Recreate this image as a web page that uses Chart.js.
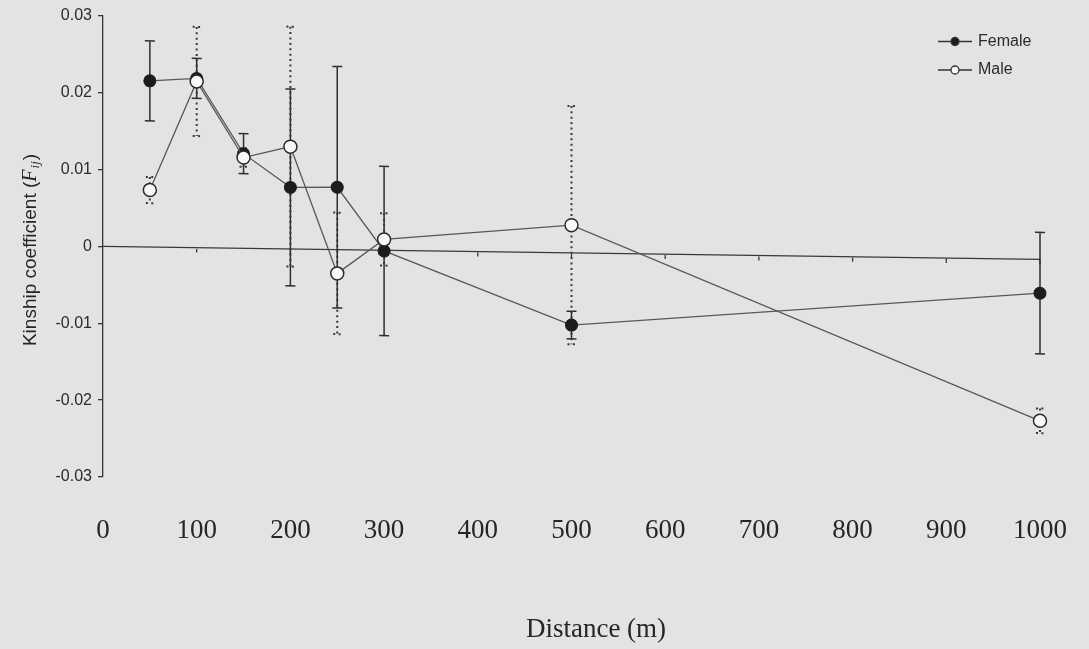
<!DOCTYPE html>
<html>
<head>
<meta charset="utf-8">
<title>Kinship coefficient by distance</title>
<script src="https://cdn.jsdelivr.net/npm/chart.js@4.4.1/dist/chart.umd.min.js"></script>
<style>
  html, body { margin: 0; padding: 0; background: #e3e3e3; }
  #wrap { width: 1089px; height: 649px; }
</style>
</head>
<body>
<div id="wrap"><canvas id="kinshipChart" width="1089" height="649"></canvas></div>
<script>
// distance classes (m) and mean kinship per sex, with their error bars
const distances = [50, 100, 150, 200, 250, 300, 500, 1000];
const femaleF   = [0.0216, 0.0220, 0.0123, 0.0080, 0.0081, -0.0001, -0.0094, -0.0044];
const femaleErr = [0.0052, 0.0026, 0.0026, 0.0128, 0.0157, 0.0110, 0.0018, 0.0079];
const maleF     = [0.0074, 0.0216, 0.0118, 0.0133, -0.0031, 0.0014, 0.0036, -0.0210];
const maleErr   = [0.0017, 0.0071, 0.0012, 0.0156, 0.0079, 0.0034, 0.0155, 0.0016];

const xTicks = [0, 100, 200, 300, 400, 500, 600, 700, 800, 900, 1000];
const yTicks = [0.03, 0.02, 0.01, 0, -0.01, -0.02, -0.03];

// the scanned plot leans a little, the zero line drops towards the right
const SHEAR = 0.0139;

function drawErrorBars(ctx, xs, ys, values, errs, dotted) {
    ctx.save();
    ctx.strokeStyle = dotted ? '#383838' : '#2e2e2e';
    ctx.lineWidth = dotted ? 2 : 1.5;
    ctx.setLineDash(dotted ? [2, 3.4] : []);
    const cap = dotted ? 4 : 5;
    distances.forEach((d, i) => {
        const px = xs.getPixelForValue(d);
        const top = ys.getPixelForValue(values[i] + errs[i]);
        const bot = ys.getPixelForValue(values[i] - errs[i]);
        ctx.beginPath();
        ctx.moveTo(px, top); ctx.lineTo(px, bot);
        ctx.moveTo(px - cap, top); ctx.lineTo(px + cap, top);
        ctx.moveTo(px - cap, bot); ctx.lineTo(px + cap, bot);
        ctx.stroke();
    });
    ctx.restore();
}

const figurePlugin = {
    id: 'figure',
    beforeDatasetsDraw(chart) {
        const ctx = chart.ctx;
        const xs = chart.scales.x, ys = chart.scales.y;
        ctx.save();
        ctx.transform(1, SHEAR, 0, 1, 0, -SHEAR * xs.left);

        // horizontal axis through zero, tick marks hanging below
        const y0 = ys.getPixelForValue(0);
        ctx.save();
        ctx.strokeStyle = '#3a3a3a';
        ctx.lineWidth = 1.3;
        ctx.beginPath();
        ctx.moveTo(xs.left, y0);
        ctx.lineTo(xs.right, y0);
        xTicks.forEach(v => {
            if (v === 0) return;
            const px = xs.getPixelForValue(v);
            ctx.moveTo(px, y0);
            ctx.lineTo(px, y0 + 5);
        });
        ctx.stroke();
        ctx.restore();

        drawErrorBars(ctx, xs, ys, femaleF, femaleErr, false);
        drawErrorBars(ctx, xs, ys, maleF, maleErr, true);
    },
    afterDatasetsDraw(chart) {
        chart.ctx.restore();
    },
    afterDraw(chart) {
        const ctx = chart.ctx;
        ctx.save();

        // legend
        const items = [
            { text: 'Female', y: 41.5, fill: '#1c1c1c' },
            { text: 'Male', y: 70, fill: '#f8f8f8' }
        ];
        items.forEach(it => {
            ctx.strokeStyle = '#333';
            ctx.lineWidth = 1.3;
            ctx.beginPath();
            ctx.moveTo(938, it.y); ctx.lineTo(972, it.y);
            ctx.stroke();
            ctx.beginPath();
            ctx.arc(955, it.y, 4, 0, Math.PI * 2);
            ctx.fillStyle = it.fill;
            ctx.fill();
            ctx.stroke();
            ctx.fillStyle = '#2a2a2a';
            ctx.font = '16px "Liberation Sans"';
            ctx.textBaseline = 'middle';
            ctx.textAlign = 'left';
            ctx.fillText(it.text, 978, it.y);
        });

        // x title
        ctx.font = '27px "Liberation Serif"';
        ctx.textAlign = 'center';
        ctx.textBaseline = 'middle';
        ctx.fillStyle = '#262626';
        ctx.fillText('Distance (m)', 596, 630);

        // y title with italic F and subscript ij
        ctx.translate(31, 250);
        ctx.rotate(-Math.PI / 2);
        ctx.textAlign = 'left';
        ctx.textBaseline = 'middle';
        const fMain = '19px "Liberation Sans"';
        const fF = 'italic 20px "Liberation Serif"';
        const fSub = 'italic 13px "Liberation Serif"';
        const part1 = 'Kinship coefficient (';
        ctx.font = fMain; const w1 = ctx.measureText(part1).width; const wP = ctx.measureText(')').width;
        ctx.font = fF; const wF = ctx.measureText('F').width + 1;
        ctx.font = fSub; const wS = ctx.measureText('ij').width + 1;
        let cx = -(w1 + wF + wS + wP) / 2;
        ctx.font = fMain; ctx.fillText(part1, cx, 0); cx += w1;
        ctx.font = fF; ctx.fillText('F', cx, 0); cx += wF;
        ctx.font = fSub; ctx.fillText('ij', cx, 5); cx += wS;
        ctx.font = fMain; ctx.fillText(')', cx, 0);

        ctx.restore();
    }
};

new Chart(document.getElementById('kinshipChart'), {
    type: 'line',
    data: {
        datasets: [
            {
                label: 'Male',
                data: distances.map((d, i) => ({ x: d, y: maleF[i] })),
                order: 0,
                borderColor: '#585858',
                borderWidth: 1.3,
                pointRadius: 6.5,
                pointBackgroundColor: '#f8f8f8',
                pointBorderColor: '#2a2a2a',
                pointBorderWidth: 1.5,
                tension: 0,
                clip: false
            },
            {
                label: 'Female',
                data: distances.map((d, i) => ({ x: d, y: femaleF[i] })),
                order: 1,
                borderColor: '#585858',
                borderWidth: 1.3,
                pointRadius: 6,
                pointBackgroundColor: '#1c1c1c',
                pointBorderColor: '#1c1c1c',
                pointBorderWidth: 1,
                tension: 0,
                clip: false
            }
        ]
    },
    options: {
        responsive: false,
        animation: false,
        layout: { padding: { top: 15, right: 49, left: 0, bottom: 0 } },
        plugins: { legend: { display: false }, tooltip: { enabled: false } },
        scales: {
            x: {
                type: 'linear',
                min: 0,
                max: 1000,
                position: 'bottom',
                grid: { display: false, drawTicks: false },
                border: { display: false },
                ticks: {
                    font: { family: 'Liberation Serif', size: 27 },
                    color: '#262626',
                    padding: 38,
                    maxRotation: 0,
                    autoSkip: false,
                    callback: v => String(v)
                },
                afterBuildTicks: s => { s.ticks = xTicks.map(v => ({ value: v })); },
                afterFit: s => { s.height = 172; s.paddingLeft = 0; s.paddingRight = 0; }
            },
            y: {
                min: -0.03,
                max: 0.03,
                grid: { drawOnChartArea: false, drawTicks: true, tickLength: 5, color: '#333', lineWidth: 1.3 },
                border: { display: true, color: '#333', width: 1.3 },
                ticks: {
                    font: { family: 'Liberation Sans', size: 16 },
                    color: '#2a2a2a',
                    padding: 6,
                    callback: v => v === 0 ? '0' : v.toFixed(2)
                },
                afterBuildTicks: s => { s.ticks = yTicks.map(v => ({ value: v })); },
                afterFit: s => { s.width = 103; }
            }
        }
    },
    plugins: [figurePlugin]
});
</script>
</body>
</html>
